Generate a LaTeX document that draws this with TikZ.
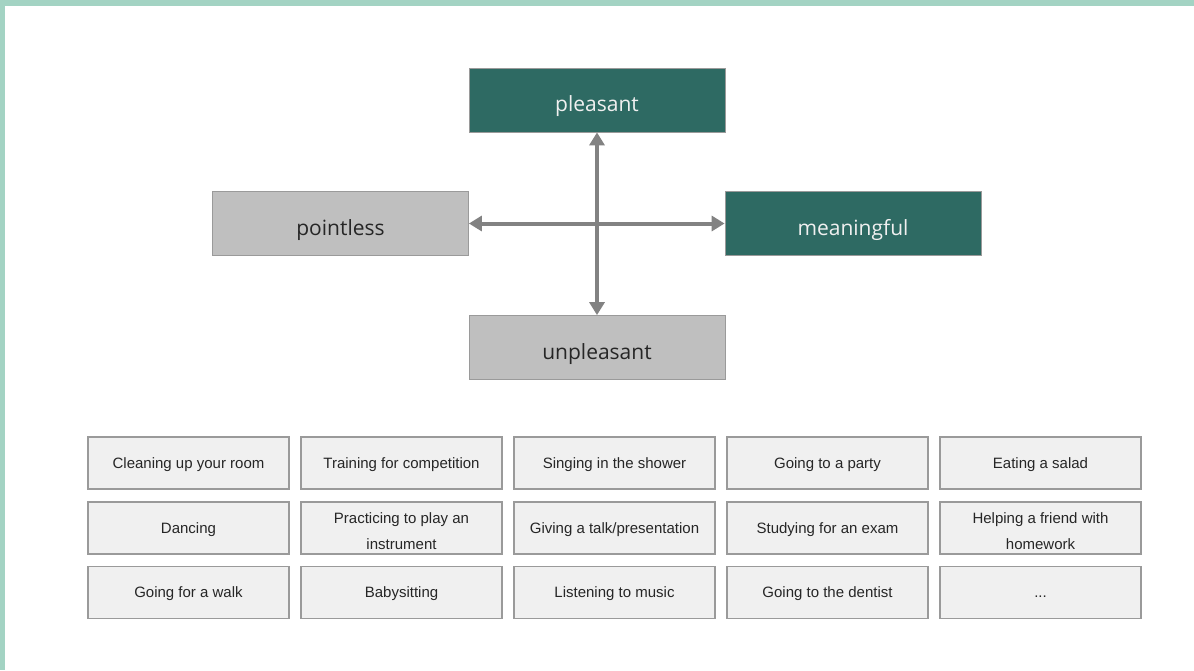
\documentclass[tikz,border=0pt]{standalone}
\usepackage{fontspec}
\setmainfont{Liberation Sans}
\newfontfamily\axisfont{Open Sans}
\usetikzlibrary{arrows.meta}
\definecolor{frame}{HTML}{A3D3C3}
\definecolor{teal}{HTML}{2E6A63}
\definecolor{grayfill}{HTML}{BFBFBF}
\definecolor{grayline}{HTML}{9A9A9A}
\definecolor{cellfill}{HTML}{F0F0F0}
\definecolor{arrowgray}{HTML}{828282}
\newcommand{\twolines}[2]{\begin{tabular}{@{}c@{}}#1\\#2\end{tabular}}

\begin{document}
\begin{tikzpicture}[x=1pt,y=-1pt,
    good/.style={draw=grayline, line width=0.8pt, fill=teal, text=white!94!black,
      minimum width=256pt, minimum height=64pt, inner sep=0pt,
      text height=23pt, text depth=0pt,
      font=\axisfont\fontsize{21}{24}\selectfont},
    bad/.style={good, fill=grayfill, text=black!85},
    cell/.style={draw=grayline, line width=1.2pt, fill=cellfill, text=black!85,
      minimum width=201pt, minimum height=52pt, inner sep=0pt,
      text height=10.5pt, text depth=-3.5pt,
      font=\fontsize{15}{26}\selectfont},
    cellii/.style={cell, text height=32.5pt, text depth=19.5pt},
    axis/.style={draw=arrowgray, line width=4pt,
      {Triangle[length=13pt,width=15pt]}-{Triangle[length=13pt,width=15pt]}}]

    % marges
    \useasboundingbox (0,0) rectangle (1194,670);
    \fill[white] (0,0) rectangle (1194,670);
    \fill[frame] (0,0) rectangle (1194,6);
    \fill[frame] (0,0) rectangle (5,670);

    % les quatre pôles
    \node[good] (pleasant) at (597,100) {pleasant};
    \node[bad] (pointless) at (340.5,223.5) {pointless};
    \node[good] (meaningful) at (853,223.5) {meaningful};
    \node[bad] (unpleasant) at (597,347.5) {unpleasant};

    % axes
    \draw[axis] (pleasant.south) -- (unpleasant.north);
    \draw[axis] (pointless.east) -- (meaningful.west);

    % activités
    \node[cell] (c11) at (188.5,463) {Cleaning up your room};
    \node[cell] (c12) at (401.5,463) {Training for competition};
    \node[cell] (c13) at (614.5,463) {Singing in the shower};
    \node[cell] (c14) at (827.5,463) {Going to a party};
    \node[cell] (c15) at (1040.5,463) {Eating a salad};

    \node[cell] (c21) at (188.5,528) {Dancing};
    \node[cellii] (c22) at (401.5,528) {\twolines{Practicing to play an}{instrument}};
    \node[cell] (c23) at (614.5,528) {Giving a talk/presentation};
    \node[cell] (c24) at (827.5,528) {Studying for an exam};
    \node[cellii] (c25) at (1040.5,528) {\twolines{Helping a friend with}{homework}};

    \node[cell] (c31) at (188.5,592.5) {Going for a walk};
    \node[cell] (c32) at (401.5,592.5) {Babysitting};
    \node[cell] (c33) at (614.5,592.5) {Listening to music};
    \node[cell] (c34) at (827.5,592.5) {Going to the dentist};
    \node[cell] (c35) at (1040.5,592.5) {...};

\end{tikzpicture}
\end{document}
